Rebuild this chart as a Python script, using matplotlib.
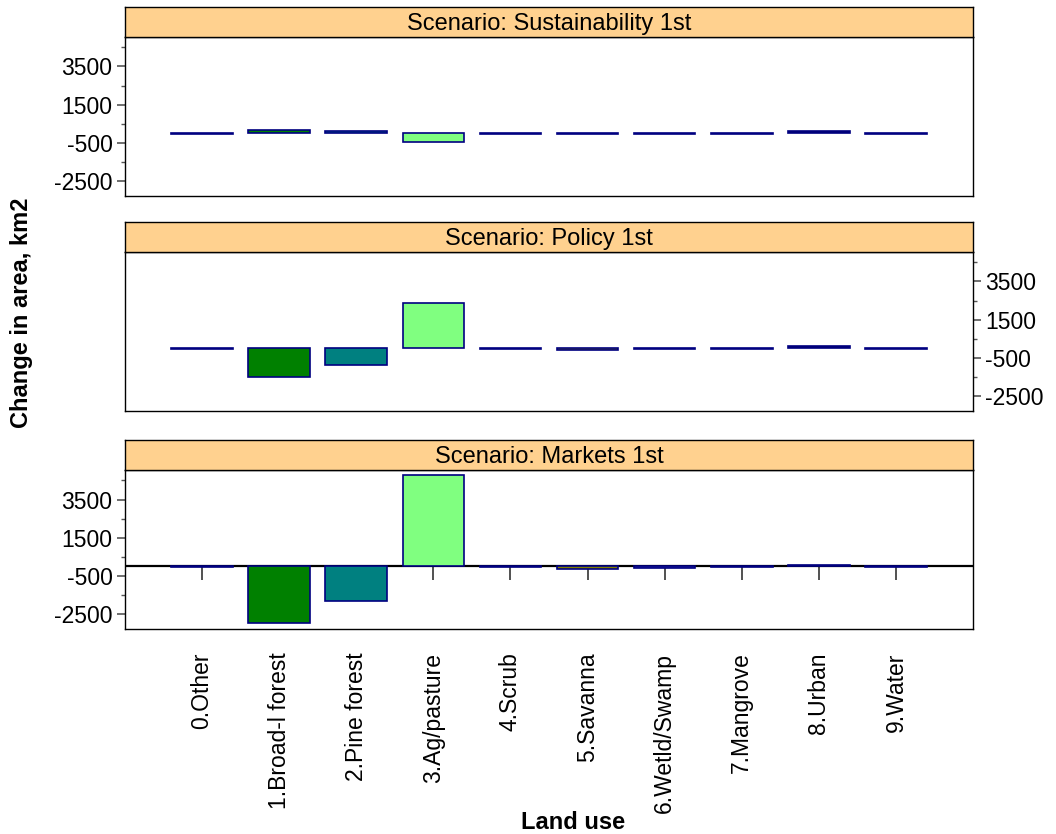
import numpy as np
import matplotlib
matplotlib.use("Agg")
import matplotlib.pyplot as plt

plt.rcParams['font.family'] = ['Liberation Sans', 'DejaVu Sans']

land_use = ['0.Other', '1.Broad-l forest', '2.Pine forest', '3.Ag/pasture', '4.Scrub',
            '5.Savanna', '6.Wetld/Swamp', '7.Mangrove', '8.Urban', '9.Water']
bar_colors = ['#b0b0b0', '#008000', '#008080', '#80ff80', '#b0a060',
              '#808000', '#4040c0', '#40a0a0', '#000060', '#3050ff']

scenarios = ['Sustainability 1st', 'Policy 1st', 'Markets 1st']
sustainability = [-10, 190, 120, -430, -20, -20, -20, -30, 140, -20]
policy = [-10, -1470, -880, 2390, -20, -80, -30, -30, 125, -20]
markets = [-10, -2950, -1810, 4800, -30, -150, -80, -40, 100, -20]
values = [sustainability, policy, markets]

major_ticks = [-2500, -500, 1500, 3500]
minor_ticks = [-1500, 500, 2500, 4500]
ylim = (-3270, 5040)

fig = plt.figure(figsize=(10.56, 8.34), dpi=100)

# panel boxes (figure fractions) and strip boxes
left, width = 0.1184, 0.803
panel_bottoms = [0.7650, 0.5072, 0.2458]
panel_h = 0.1906
strip_h = 0.036

x = np.arange(len(land_use))
for i, (name, vals) in enumerate(zip(scenarios, values)):
    ax = fig.add_axes([left, panel_bottoms[i], width, panel_h])
    ax.bar(x, vals, width=0.8, color=bar_colors, edgecolor='#000080', linewidth=1.2, zorder=2)
    ax.set_xlim(-1, len(land_use))
    ax.set_ylim(*ylim)
    ax.set_yticks(major_ticks)
    ax.set_yticklabels([str(t) for t in major_ticks])
    ax.set_yticks(minor_ticks, minor=True)
    for sp in ax.spines.values():
        sp.set_linewidth(1.0)
    right_side = (i == 1)
    ax.tick_params(axis='y', which='both', left=not right_side, right=right_side,
                   labelleft=not right_side, labelright=right_side,
                   labelsize=16.5, direction='out', color='#555555')
    ax.tick_params(axis='y', which='major', length=6, width=1.2, pad=3)
    ax.tick_params(axis='y', which='minor', length=3, width=1.0)

    if i < 2:
        ax.set_xticks([])
    else:
        ax.set_xticks(x)
        ax.set_xticklabels(land_use, rotation=90, fontsize=16.5, va='top')
        ax.tick_params(axis='x', length=0, pad=17)
        # zero line with category ticks hanging below it
        ax.axhline(0, color='black', linewidth=1.6, zorder=1)
        sec = ax.secondary_xaxis(0, transform=ax.transData)
        sec.set_xticks(x)
        sec.set_xticklabels([])
        sec.tick_params(axis='x', length=10, width=1.2, direction='out', color='#333333')
        sec.spines['bottom'].set_visible(False)

    # strip
    sax = fig.add_axes([left, panel_bottoms[i] + panel_h, width, strip_h])
    sax.set_facecolor('#ffd18f')
    sax.set_xticks([])
    sax.set_yticks([])
    for sp in sax.spines.values():
        sp.set_linewidth(1.0)
    sax.text(0.5, 0.45, 'Scenario: ' + name, ha='center', va='center',
             fontsize=17, transform=sax.transAxes)

fig.text(0.020, 0.625, 'Change in area, km2', rotation=90, ha='center', va='center',
         fontsize=17, fontweight='bold')
fig.text(0.543, 0.014, 'Land use', ha='center', va='center', fontsize=17, fontweight='bold')

fig.savefig('out.png', dpi=100)
